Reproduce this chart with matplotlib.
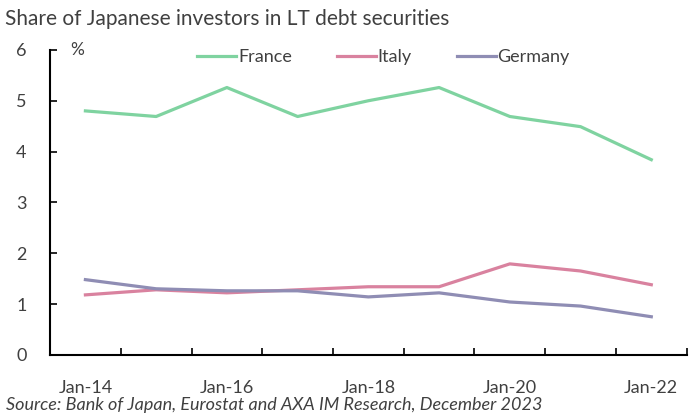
import matplotlib.pyplot as plt
import numpy as np

plt.rcParams['font.family'] = ['Lato', 'DejaVu Sans']

# annual observations, Jan-14 .. Jan-22
years = ['Jan-14', 'Jan-15', 'Jan-16', 'Jan-17', 'Jan-18',
         'Jan-19', 'Jan-20', 'Jan-21', 'Jan-22']
france = [4.80, 4.69, 5.26, 4.69, 5.00, 5.26, 4.69, 4.49, 3.84]
italy = [1.18, 1.28, 1.22, 1.28, 1.34, 1.34, 1.79, 1.65, 1.38]
germany = [1.48, 1.30, 1.26, 1.26, 1.14, 1.22, 1.04, 0.96, 0.75]

fig = plt.figure(figsize=(6.95, 4.16), dpi=100)
ax = fig.add_axes([0.072, 0.147, 0.916, 0.733])

x = np.arange(len(years))
ax.plot(x, france, color='#7fd3a0', lw=2.3, label='France')
ax.plot(x, italy, color='#d9829f', lw=2.3, label='Italy')
ax.plot(x, germany, color='#8f8db4', lw=2.3, label='Germany')

ax.set_xlim(-0.5, len(years) - 0.5)
ax.set_ylim(0, 6)
ax.set_yticks(range(7))
ax.set_xticks(x[::2])
ax.set_xticklabels(years[::2])
# category boundaries
ax.set_xticks(np.arange(-0.5, len(years)), minor=True)
ax.tick_params(axis='x', which='major', length=0, pad=18)
ax.tick_params(axis='x', which='minor', direction='in', length=5, width=1.2)
ax.tick_params(axis='y', direction='in', length=5, width=1.2, pad=17)
ax.tick_params(labelsize=13, labelcolor='#404040')
for side in ['top', 'right']:
    ax.spines[side].set_visible(False)
for side in ['left', 'bottom']:
    ax.spines[side].set_linewidth(1.5)

ax.text(-0.22, 6.0, '%', fontsize=12.5, color='#404040', va='center')

fig.text(0.007, 0.955, 'Share of Japanese investors in LT debt securities',
         fontsize=15, color='#404040', va='center')
fig.text(0.009, 0.027, 'Source: Bank of Japan, Eurostat and AXA IM Research, December 2023',
         fontsize=13, style='italic', color='#404040', va='center')

fig.legend(loc='center', bbox_to_anchor=(0.552, 0.862), ncol=3, frameon=False,
           fontsize=13, handlelength=2.15, handletextpad=0.1, columnspacing=2.5,
           labelcolor='#404040')

fig.savefig('out.png', dpi=100)
